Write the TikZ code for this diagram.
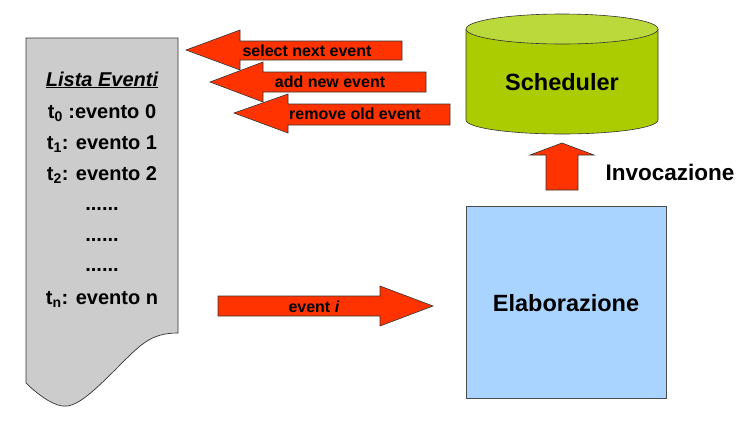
\documentclass[tikz,border=0pt]{standalone}
\usepackage{fontspec}
\setmainfont{Liberation Sans}
\usetikzlibrary{arrows.meta}

\definecolor{redfill}{HTML}{FF3300}
\definecolor{greenfill}{HTML}{AACC00}
\definecolor{greentop}{HTML}{BBD93A}
\definecolor{bluefill}{HTML}{A8D4FF}
\definecolor{listgray}{HTML}{CCCCCC}

\begin{document}
\begin{tikzpicture}[x=1pt, y=-1pt, every node/.style={font=\bfseries, inner sep=0pt},
  redarrow/.style={fill=redfill, draw=black!80, line width=0.6pt, line join=miter},
  listline/.style={font=\fontsize{20}{24}\selectfont\bfseries, anchor=base},
  arrowtext/.style={font=\fontsize{16}{19}\selectfont\bfseries, anchor=base},
  bigtext/.style={font=\fontsize{23.5}{28}\selectfont\bfseries, anchor=base}]
  \useasboundingbox[fill=white] (0,0) rectangle (753,421);

  % event list (document shape)
  \draw[fill=listgray, draw=black!80, line width=0.7pt] (26,38) -- (178,38) -- (178,333)
    .. controls (150,333) and (140,345) .. (115,370)
    .. controls (90,395) and (75,408) .. (62,406)
    .. controls (50,404) and (35,392) .. (26,383) -- cycle;
  \node[listline] (title) at (102,86) {\itshape\underline{Lista Eventi}};
  \node[listline] (ev0) at (102,118) {t\textsubscript{0} :evento 0};
  \node[listline] (ev1) at (102,149) {t\textsubscript{1}: evento 1};
  \node[listline] (ev2) at (102,180) {t\textsubscript{2}: evento 2};
  \node[listline] (dots1) at (102,210) {......};
  \node[listline] (dots2) at (102,241) {......};
  \node[listline] (dots3) at (102,271) {......};
  \node[listline] (evn) at (102,304) {t\textsubscript{n}: evento n};

  % scheduler cylinder
  \draw[fill=greenfill, draw=black!80, line width=0.6pt] (466,29) -- (466,120)
    arc[start angle=180, end angle=0, x radius=96, y radius=14] -- (658,29);
  \draw[fill=greentop, draw=black!80, line width=0.6pt] (562,29) ellipse[x radius=96, y radius=15];
  \node[bigtext] (sched) at (562,90) {Scheduler};

  % elaborazione box
  \draw[fill=bluefill, draw=black!70, line width=0.6pt] (466,206) rectangle (666,398);
  \node[bigtext] (elab) at (566,311) {Elaborazione};

  % arrows towards the list
  \draw[redarrow] (186,50) -- (240,30) -- (240,41) -- (402,41) -- (402,60) -- (240,60) -- (240,70) -- cycle;
  \node[arrowtext] (select) at (307,56) {select next event};
  \draw[redarrow] (210,82) -- (263,62) -- (263,72) -- (426,72) -- (426,92) -- (263,92) -- (263,102) -- cycle;
  \node[arrowtext] (add) at (330,87) {add new event};
  \draw[redarrow] (234,113) -- (288,94) -- (288,104) -- (450,104) -- (450,125) -- (288,125) -- (288,133) -- cycle;
  \node[arrowtext] (remove) at (355,119) {remove old event};

  % event i
  \draw[redarrow] (218,296) -- (380,296) -- (380,286) -- (433,306) -- (380,326) -- (380,316) -- (218,316) -- cycle;
  \node[arrowtext] (evi) at (314,312) {event \textit{i}};

  % invocazione
  \draw[redarrow] (546,190) -- (546,155) -- (530,155) -- (562,143) -- (594,155) -- (578,155) -- (578,190) -- cycle;
  \node[font=\fontsize{22.5}{27}\selectfont\bfseries, anchor=base] (invoc) at (670,180) {Invocazione};
\end{tikzpicture}
\end{document}
